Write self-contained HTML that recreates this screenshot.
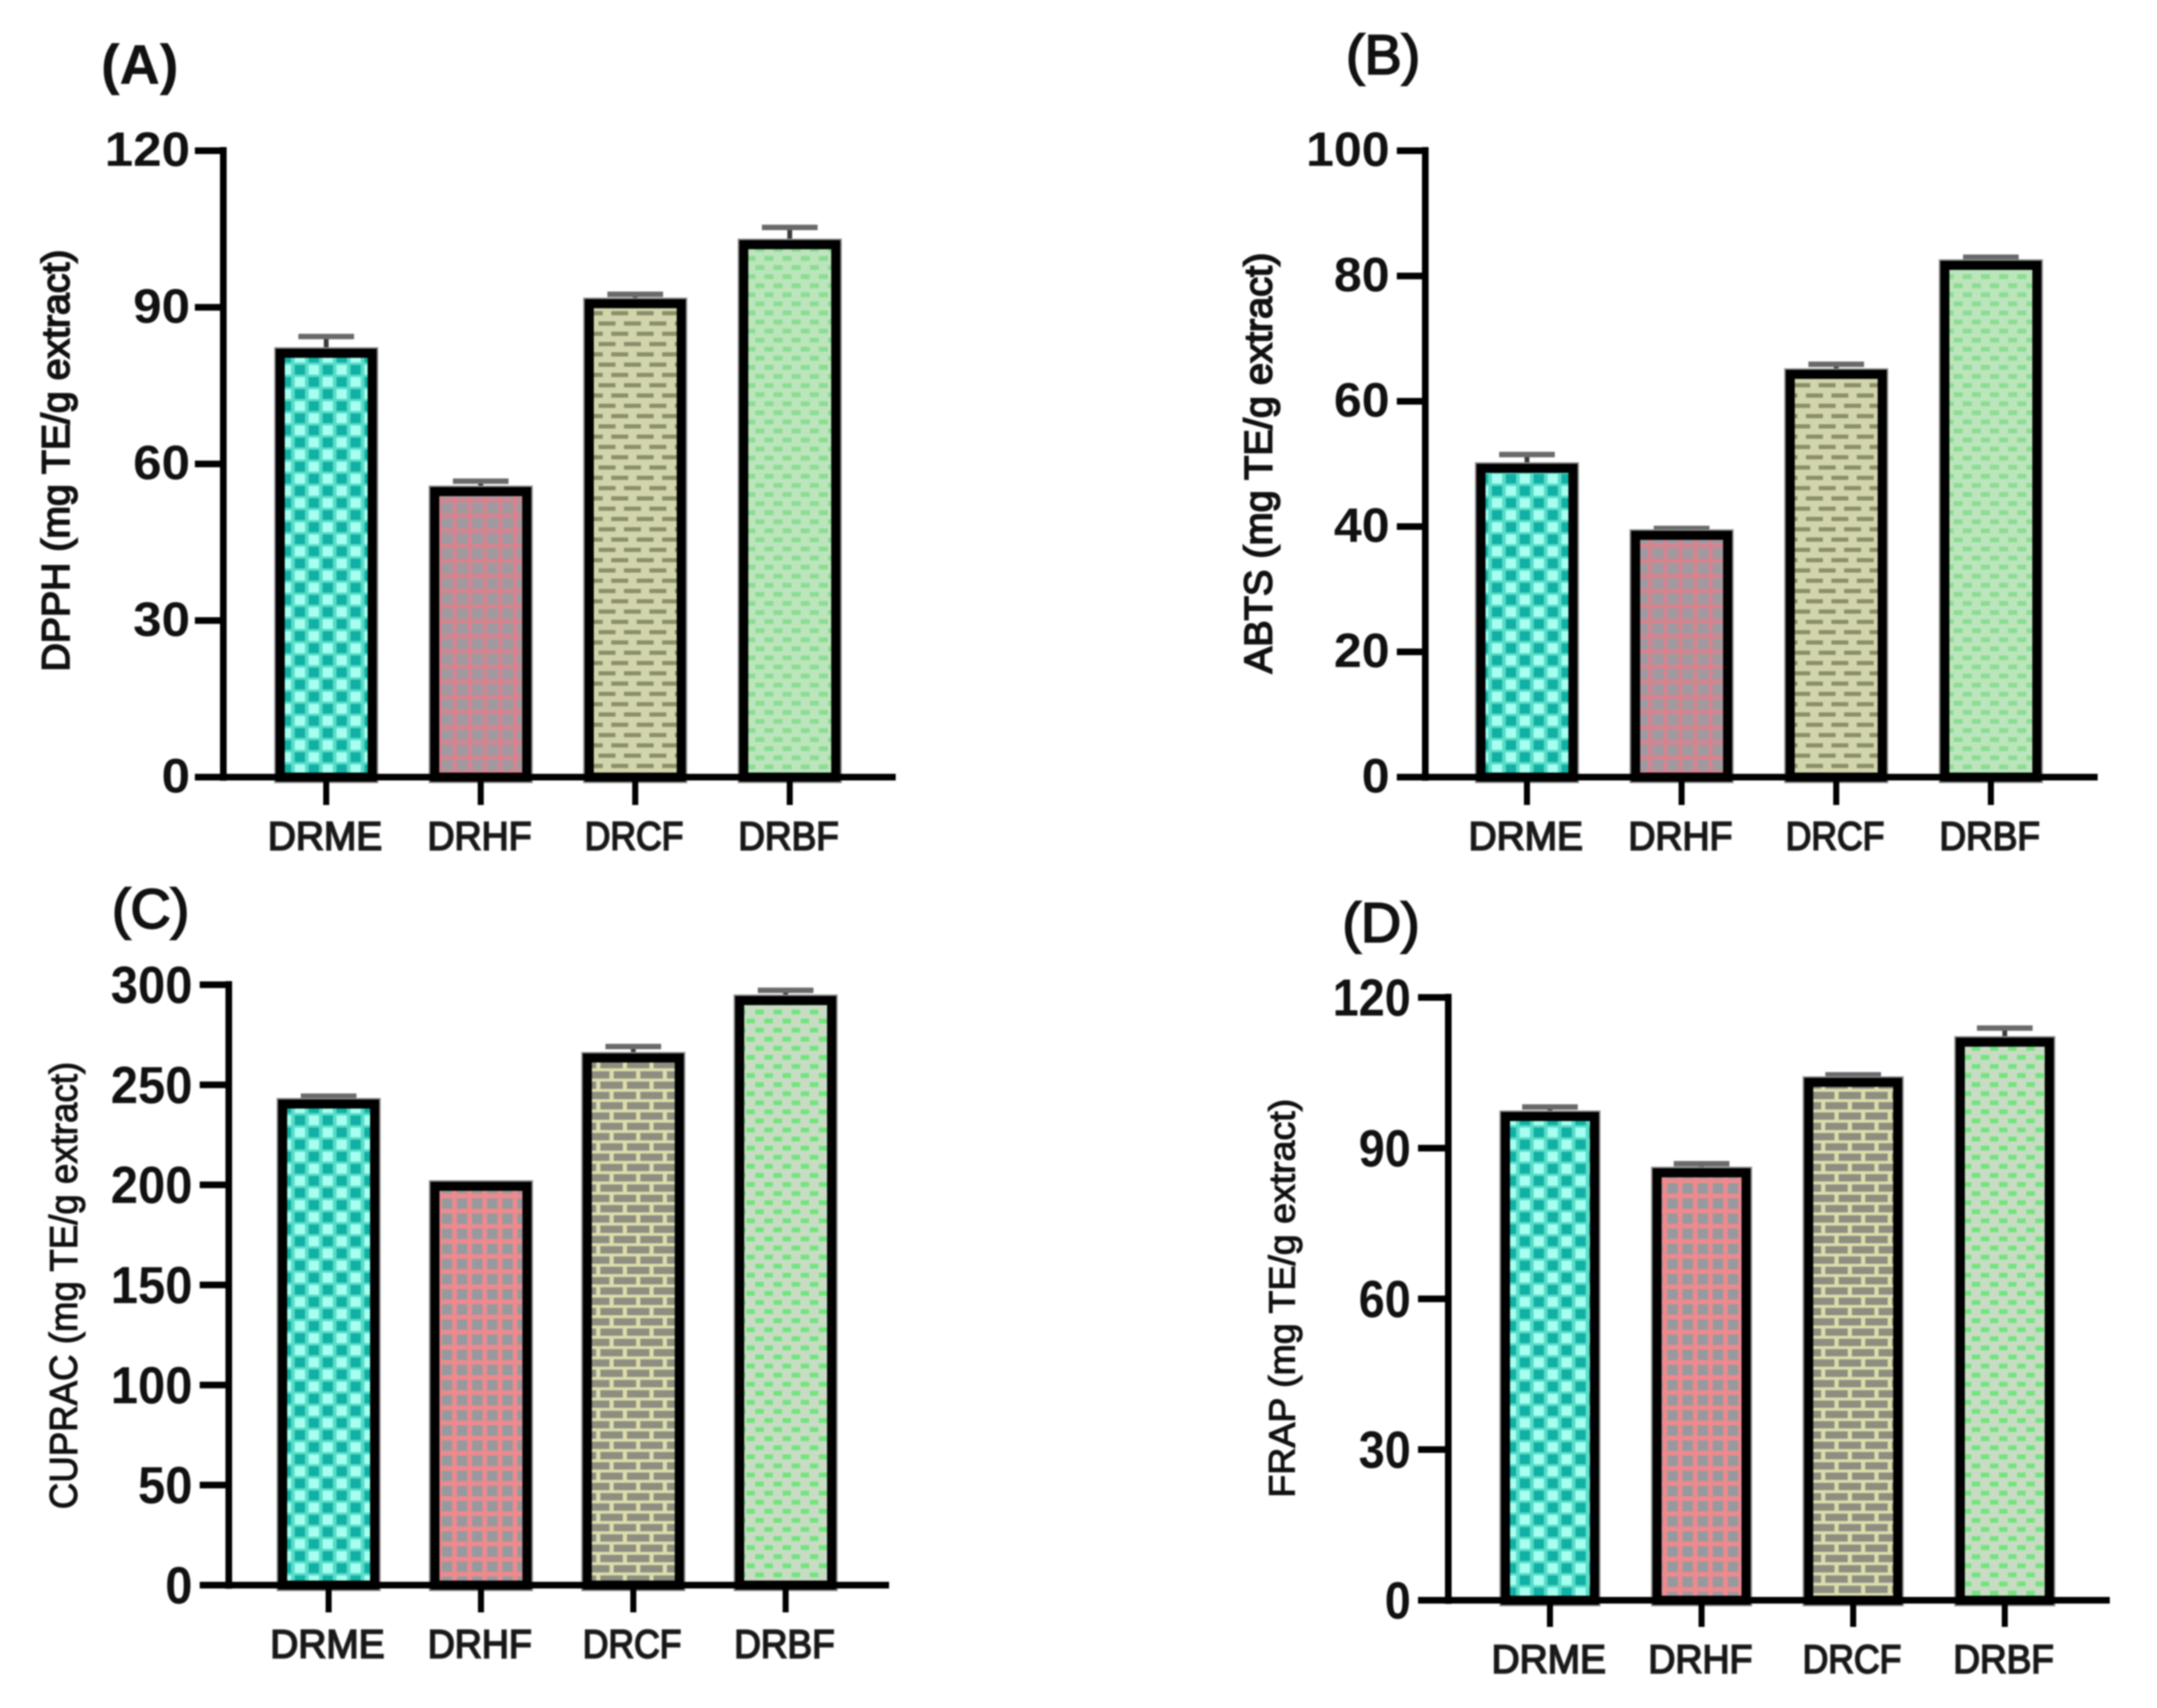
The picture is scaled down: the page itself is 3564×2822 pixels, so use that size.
<!DOCTYPE html>
<html lang="en">
<head>
<meta charset="utf-8">
<title>Antioxidant activity bar charts</title>
<style>
html,body{margin:0;padding:0;background:#fff;width:3564px;height:2822px;overflow:hidden}
svg{display:block;filter:blur(1.4px)}
text{font-family:"Liberation Sans",Arial,sans-serif;fill:#111}
</style>
</head>
<body>
<svg id="figure" xmlns="http://www.w3.org/2000/svg" width="3564" height="2822" viewBox="0 0 3564 2822">
  <rect width="3564" height="2822" fill="#fff"></rect>
  <defs>
    <pattern id="teal" patternUnits="userSpaceOnUse" width="46" height="40">
      <rect width="46" height="40" fill="#58dcc8"/>
      <rect x="4" y="3" width="17" height="16" fill="#a6fff0"/>
      <rect x="27" y="3" width="17" height="16" fill="#12b0a4"/>
      <rect x="4" y="23" width="17" height="16" fill="#12b0a4"/>
      <rect x="27" y="23" width="17" height="16" fill="#a6fff0"/>
    </pattern>
    <pattern id="redSoft" patternUnits="userSpaceOnUse" width="25" height="25">
      <rect width="25" height="25" fill="#d5848f"/>
      <rect x="5" y="5" width="18" height="18" fill="#a09aa0"/>
    </pattern>
    <pattern id="redCrisp" patternUnits="userSpaceOnUse" width="25" height="25">
      <rect width="25" height="25" fill="#ec8a8e"/>
      <rect x="5" y="5" width="17" height="17" fill="#96999e"/>
    </pattern>
    <pattern id="brickSoft" patternUnits="userSpaceOnUse" width="42" height="34">
      <rect width="42" height="34" fill="#d2d5ab"/>
      <rect x="2" y="4" width="28" height="7" fill="#8b8f6a"/>
      <rect x="-19" y="21" width="28" height="7" fill="#8b8f6a"/>
      <rect x="23" y="21" width="28" height="7" fill="#8b8f6a"/>
    </pattern>
    <pattern id="brickCrisp" patternUnits="userSpaceOnUse" width="44" height="34">
      <rect width="44" height="34" fill="#dcdcac"/>
      <rect x="2" y="2" width="37" height="12" fill="#8d8e80"/>
      <rect x="-20" y="19" width="37" height="12" fill="#8d8e80"/>
      <rect x="24" y="19" width="37" height="12" fill="#8d8e80"/>
    </pattern>
    <pattern id="greenSoft" patternUnits="userSpaceOnUse" width="30" height="30">
      <rect width="30" height="30" fill="#bce5bc"/>
      <rect x="3" y="3" width="15" height="8" fill="#8cdc94"/>
      <rect x="18" y="18" width="15" height="8" fill="#8cdc94"/>
      <rect x="-12" y="18" width="15" height="8" fill="#8cdc94"/>
    </pattern>
    <pattern id="greenCrisp" patternUnits="userSpaceOnUse" width="30" height="30">
      <rect width="30" height="30" fill="#c8dcc4"/>
      <rect x="3" y="3" width="14" height="8" fill="#72e47e"/>
      <rect x="18" y="18" width="14" height="8" fill="#72e47e"/>
      <rect x="-12" y="18" width="14" height="8" fill="#72e47e"/>
    </pattern>
  </defs>
</svg>
<script>
const categories = ['DRME', 'DRHF', 'DRCF', 'DRBF'];

const dpphValues = [81.2, 54.7, 90.7, 102.0];
const dpphUpper = [84.4, 56.7, 92.5, 105.3];
const dpphTicks = [0, 30, 60, 90, 120];

const abtsValues = [49.3, 38.6, 64.3, 81.7];
const abtsUpper = [51.5, 39.7, 65.9, 83.0];
const abtsTicks = [0, 20, 40, 60, 80, 100];

const cupracValues = [240.4, 199.3, 263.4, 292.1];
const cupracUpper = [244.3, 200.5, 269.1, 297.2];
const cupracTicks = [0, 50, 100, 150, 200, 250, 300];

const frapValues = [96.3, 85.1, 103.1, 111.1];
const frapUpper = [98.2, 86.9, 104.6, 113.9];
const frapTicks = [0, 30, 60, 90, 120];

const softFills = ['teal', 'redSoft', 'brickSoft', 'greenSoft'];
const crispFills = ['teal', 'redCrisp', 'brickCrisp', 'greenCrisp'];

const categoryLabelWidths = [189, 172, 163, 166];

const panels = [
  { key: 'a', letter: '(A)', title: 'DPPH (mg TE/g extract)', values: dpphValues, upper: dpphUpper, ticks: dpphTicks, fills: softFills,
    axisX: 369, top: 249, bottom: 1284, right: 1480, tickLeft: 322, firstX: 539, stepX: 255.3, barW: 172, tickEnd: 1330,
    tickFont: 80, digitW: 47, labelGap: 8, tickBase: 25, catBase: 1404,
    letterX: 167, letterY: 138, letterWeight: 'bold', letterStroke: 0.5,
    titleX: 114, titleY: 761, titleLen: 697, titleFont: 64, titleStroke: 2.8 },
  { key: 'b', letter: '(B)', title: 'ABTS (mg TE/g extract)', values: abtsValues, upper: abtsUpper, ticks: abtsTicks, fills: softFills,
    axisX: 2355, top: 249, bottom: 1284, right: 3466, tickLeft: 2308, firstX: 2523, stepX: 255.5, barW: 172, tickEnd: 1330,
    tickFont: 80, digitW: 46, labelGap: 12, tickBase: 25, catBase: 1404,
    letterX: 2224, letterY: 122, letterWeight: 'normal', letterStroke: 3,
    titleX: 2101, titleY: 765, titleLen: 695, titleFont: 64, titleStroke: 2.8 },
  { key: 'c', letter: '(C)', title: 'CUPRAC (mg TE/g extract)', values: cupracValues, upper: cupracUpper, ticks: cupracTicks, fills: crispFills,
    axisX: 378, top: 1627, bottom: 2619, right: 1469, tickLeft: 330, firstX: 543, stepX: 251.7, barW: 172, tickEnd: 2664,
    tickFont: 86, digitW: 45, labelGap: 12, tickBase: 30, catBase: 2739,
    letterX: 185, letterY: 1533, letterWeight: 'normal', letterStroke: 3,
    titleX: 127, titleY: 2124, titleLen: 739, titleFont: 64, titleStroke: 1.8 },
  { key: 'd', letter: '(D)', title: 'FRAP (mg TE/g extract)', values: frapValues, upper: frapUpper, ticks: frapTicks, fills: crispFills,
    axisX: 2393, top: 1648, bottom: 2644, right: 3486, tickLeft: 2343, firstX: 2561, stepX: 250.5, barW: 167, tickEnd: 2688,
    tickFont: 86, digitW: 43, labelGap: 12, tickBase: 30, catBase: 2764,
    letterX: 2218, letterY: 1556, letterWeight: 'normal', letterStroke: 3,
    titleX: 2139, titleY: 2145, titleLen: 659, titleFont: 60, titleStroke: 1.8 }
];

const SVG_NS = 'http://www.w3.org/2000/svg';
const root = document.getElementById('figure');

function make(tag, attrs, parent) {
  const node = document.createElementNS(SVG_NS, tag);
  for (const k in attrs) node.setAttribute(k, attrs[k]);
  parent.appendChild(node);
  return node;
}

function drawPanel(p) {
  const maxTick = p.ticks[p.ticks.length - 1];
  const yScale = v => p.bottom - (v / maxTick) * (p.bottom - p.top);
  const xScale = i => p.firstX + i * p.stepX;

  const group = make('g', {}, root);
  
  

  const letter = make('text', { x: p.letterX, y: p.letterY, 'font-size': 92, 'font-weight': p.letterWeight, stroke: '#111', 'stroke-width': p.letterStroke }, group);
  letter.textContent = p.letter;
  
  

  const title = make('text', {
    transform: 'translate(' + p.titleX + ',' + p.titleY + ') rotate(-90)',
    'text-anchor': 'middle', 'font-size': p.titleFont,
    textLength: p.titleLen, lengthAdjust: 'spacingAndGlyphs',
    stroke: '#111', 'stroke-width': p.titleStroke
  }, group);
  title.textContent = p.title;
  
  

  p.values.forEach((value, i) => {
    const cx = xScale(i);
    const w = p.barW - 20;
    const yTop = yScale(value);
    const yErr = yScale(p.upper[i]);

    const stem = make('line', { x1: cx, x2: cx, y1: yTop, y2: yErr, stroke: '#3a3a3a', 'stroke-width': 8 }, group);
    
    

    const cap = make('line', { x1: cx - 46, x2: cx + 46, y1: yErr, y2: yErr, stroke: '#6a6a6a', 'stroke-width': 9 }, group);
    
    

    const halo = make('rect', { x: cx - w / 2, y: yTop, width: w, height: p.bottom - yTop, fill: 'none', stroke: '#8c8c8c', 'stroke-width': 20 }, group);
    
    

    const bar = make('rect', { x: cx - w / 2, y: yTop, width: w, height: p.bottom - yTop, fill: 'url(#' + p.fills[i] + ')', stroke: '#000', 'stroke-width': 15 }, group);
    
    
  });

  const yAxis = make('line', { x1: p.axisX, x2: p.axisX, y1: p.top - 6, y2: p.bottom + 6, stroke: '#000', 'stroke-width': 11 }, group);
  
  

  const xAxis = make('line', { x1: p.tickLeft, x2: p.right, y1: p.bottom, y2: p.bottom, stroke: '#000', 'stroke-width': 11 }, group);
  
  

  p.ticks.forEach(t => {
    const y = yScale(t);

    const tick = make('line', { x1: p.tickLeft, x2: p.axisX, y1: y, y2: y, stroke: '#000', 'stroke-width': 11 }, group);
    
    

    const label = String(t);
    const tickText = make('text', {
      x: p.tickLeft - p.labelGap, y: y + p.tickBase, 'text-anchor': 'end', 'font-size': p.tickFont, 'font-weight': 'bold',
      textLength: label.length * p.digitW, lengthAdjust: 'spacingAndGlyphs'
    }, group);
    tickText.textContent = label;
    
    
  });

  categories.forEach((name, i) => {
    const cx = xScale(i);

    const tick = make('line', { x1: cx, x2: cx, y1: p.bottom, y2: p.tickEnd, stroke: '#000', 'stroke-width': 10 }, group);
    
    

    const catText = make('text', {
      x: cx - 2, y: p.catBase, 'text-anchor': 'middle', 'font-size': 66, fill: '#222',
      stroke: '#222', 'stroke-width': 3,
      textLength: categoryLabelWidths[i], lengthAdjust: 'spacingAndGlyphs'
    }, group);
    catText.textContent = name;
    
    
  });
}

panels.forEach(drawPanel);
</script>
</body>
</html>
